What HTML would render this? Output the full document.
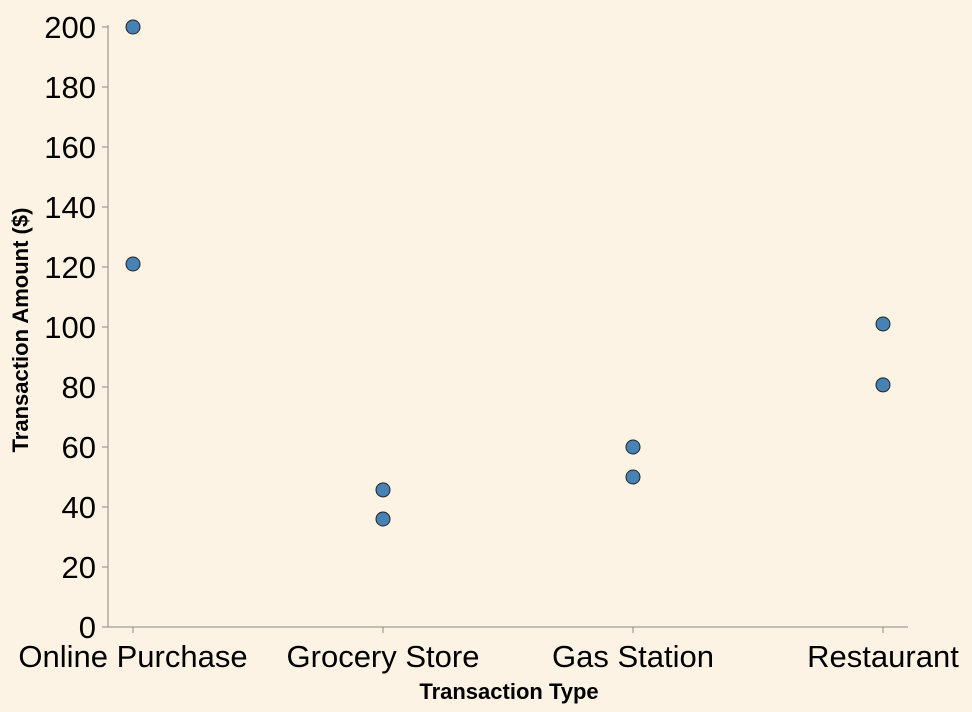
<!DOCTYPE html>
<html>
<head>
<meta charset="utf-8">
<style>
html,body{margin:0;padding:0;background:#fdf3e4;}
svg{display:block;}
text{font-family:"Liberation Sans",sans-serif;fill:#000;}
</style>
</head>
<body>
<svg id="chart" width="972" height="712">
<rect width="972" height="712" fill="#fdf3e4"></rect>
</svg>
<script>
const categories = ["Online Purchase","Grocery Store","Gas Station","Restaurant"];
const pointCategories = ["Online Purchase","Online Purchase","Grocery Store","Grocery Store","Gas Station","Gas Station","Restaurant","Restaurant"];
const pointValues = [200,121,45.7,36,60,50,101,80.7];
const yTicks = [0,20,40,60,80,100,120,140,160,180,200];

const svgEl = document.getElementById('chart');
const NS = 'http://www.w3.org/2000/svg';
const plotLeft = 108, plotRight = 908, plotTop = 27, plotBottom = 627;
const yMax = 200;
const edgePad = 25;
function yScale(v){ return plotBottom - (v / yMax) * (plotBottom - plotTop); }
const bandStep = (plotRight - plotLeft - 2 * edgePad) / (categories.length - 1 + 0.2);
function xScale(c){ return plotLeft + edgePad + 250 * categories.indexOf(c); }
function mk(tag, attrs){ const e = document.createElementNS(NS, tag); for (const k in attrs) e.setAttribute(k, attrs[k]); svgEl.appendChild(e); return e; }

const yAxis = mk('line', {x1:plotLeft, x2:plotLeft, y1:plotTop-2, y2:plotBottom, stroke:'#888', 'stroke-width':1});


yTicks.forEach(t => {
  const tk = mk('line', {x1:plotLeft-6, x2:plotLeft, y1:yScale(t), y2:yScale(t), stroke:'#888'});
  
  
  const lb = mk('text', {x:plotLeft-12, y:yScale(t)+11, 'text-anchor':'end', 'font-size':31});
  lb.textContent = t;
  
  
});
const xAxis = mk('line', {x1:plotLeft, x2:plotRight, y1:plotBottom, y2:plotBottom, stroke:'#888'});


categories.forEach(c => {
  const tk = mk('line', {x1:xScale(c), x2:xScale(c), y1:plotBottom, y2:plotBottom+6, stroke:'#888'});
  
  
  const lb = mk('text', {x:xScale(c), y:plotBottom+40, 'text-anchor':'middle', 'font-size':31});
  lb.textContent = c;
  
  
});
const xt = mk('text', {x:509, y:699, 'text-anchor':'middle', 'font-size':22, 'font-weight':'bold'});
xt.textContent = 'Transaction Type';


const yt = mk('text', {x:0, y:0, 'text-anchor':'middle', 'font-size':22, 'font-weight':'bold', transform:'translate(28,330) rotate(-90)'});
yt.textContent = 'Transaction Amount ($)';


pointValues.forEach((v, i) => {
  const p = mk('circle', {cx:xScale(pointCategories[i]), cy:yScale(v), r:7, fill:'#4682b4', stroke:'#222', 'stroke-width':1});
  
  
});
</script>
</body>
</html>
